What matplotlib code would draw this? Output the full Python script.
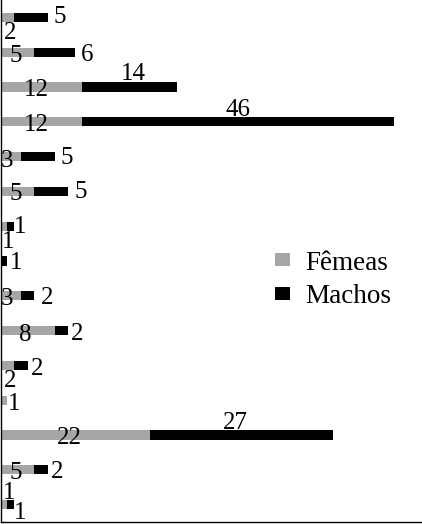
import numpy as np
import matplotlib.pyplot as plt

plt.rcParams['font.family'] = ['Liberation Serif', 'DejaVu Serif']

femeas = [2, 5, 12, 12, 3, 5, 1, 0, 3, 8, 2, 1, 22, 5, 1]
machos = [5, 6, 14, 46, 5, 5, 1, 1, 2, 2, 2, 0, 27, 2, 1]

# label nudges in pixels (dx, dy) from the centre of each segment
f_off = [(3, -13.5), (-2, -1.5), (-5, -0.5), (-5, -0.5), (-3.6, -1.5),
         (-2, -0.5), (4.6, -13), None, (-3.6, -1), (-2, -1.5),
         (3, -13.5), (10.6, -1.5), (-5.4, -1), (-1.4, -0.5), (5, 14.5)]
m_off = [(28.6, 2.5), (32, -0.5), (4, 15), (0, 14.5), (29, 1),
         (29, 1.5), (9.4, 2), (12, 0), (19, 0), (15.7, -0.5),
         (15.7, -1.5), None, (-5.5, 14.5), (15.4, 0.5), (9.4, -6)]

gray = '#a6a6a6'
y = np.arange(len(femeas))

fig = plt.figure(figsize=(4.22, 5.24), dpi=100)
ax = fig.add_axes([0.6/422, 2/524, 421.4/422, 522/524])

ax.barh(y, femeas, height=0.26, color=gray, label='Fêmeas')
ax.barh(y, machos, left=femeas, height=0.26, color='black', label='Machos')

for i in range(len(y)):
    if femeas[i] > 0 and f_off[i] is not None:
        ax.annotate(str(femeas[i]), (femeas[i] / 2, i), xytext=f_off[i],
                    textcoords='offset pixels', ha='center', va='center_baseline',
                    fontsize=18)
    if machos[i] > 0 and m_off[i] is not None:
        ax.annotate(str(machos[i]), (femeas[i] + machos[i] / 2, i), xytext=m_off[i],
                    textcoords='offset pixels', ha='center', va='center_baseline',
                    fontsize=18)

ax.set_xlim(0, 421.4 / 6.78)
ax.set_ylim(len(y) - 0.5, -0.5)
ax.set_xticks([])
ax.set_yticks([])
ax.spines['top'].set_visible(False)
ax.spines['right'].set_visible(False)
ax.spines['left'].set_linewidth(1.0)
ax.spines['bottom'].set_linewidth(1.0)

ax.legend(loc='center left', bbox_to_anchor=(275/422, 1 - 280/524),
          bbox_transform=fig.transFigure, frameon=False, borderpad=0,
          borderaxespad=0, handlelength=0.55, handleheight=0.37,
          handletextpad=0.55, labelspacing=0.33, fontsize=19.5)

fig.savefig('out.png', dpi=100)
